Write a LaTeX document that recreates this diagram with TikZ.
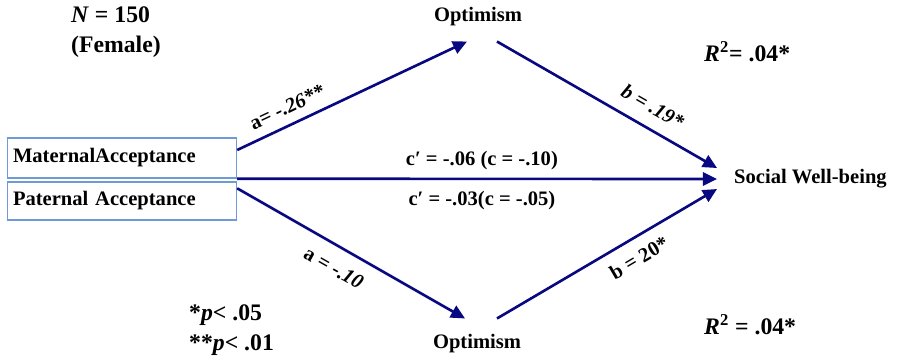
\documentclass[tikz,border=0pt]{standalone}
\usepackage{fontspec}
\setmainfont{Liberation Serif}
\usetikzlibrary{arrows.meta,positioning,calc}
\definecolor{navyline}{RGB}{8,8,128}
\definecolor{boxblue}{RGB}{110,155,215}

\begin{document}
\begin{tikzpicture}[x=0.02cm, y=-0.02cm, font=\bfseries\fontsize{11.7}{14}\selectfont,
    varbox/.style={draw=boxblue, line width=0.8pt, minimum height=0.8cm, text width=4.36cm, inner xsep=0.11cm, align=left},
    effect/.style={draw=navyline, line width=1.5pt, -{Triangle[length=8pt,width=7.5pt]}},
    note/.style={font=\bfseries\fontsize{13.5}{17}\selectfont, anchor=west, align=left}]
    \useasboundingbox (0,0) rectangle (898,363);

    % variables
    \node[varbox] (mat) at (122,158) {MaternalAcceptance};
    \node[varbox, minimum height=0.76cm] (pat) at (122,201) {Paternal Acceptance};
    \node (optA) at (478,17) {Optimism};
    \node (optB) at (477,344) {Optimism};
    \node[anchor=west] (swb) at (728,179) {Social Well-being};

    % paths
    \draw[effect] ($(mat.east)+(0,-8)$) -- ($(optA.south)+(-11,9)$)
        node[pos=0.25, sloped, above=2pt] {a= \textit{-.26**}};
    \draw[effect] ($(optA.south)+(19,9)$) -- ($(swb.west)+(-11,-11)$)
        node[pos=0.66, sloped, above=4pt] {\textit{b = .19*}};
    \draw[effect] (mat.south east) -- ($(swb.west)+(-11,0)$)
        node[pos=0.51, above=1pt] {c′ = -.06 (c = -.10)}
        node[pos=0.51, below=3pt] {c′ = -.03(c = -.05)};
    \draw[effect] ($(pat.north east)+(0,7)$) -- ($(optB.north)+(-12,-10)$)
        node[pos=0.47, sloped, below=4pt] {a = \textit{-.10}};
    \draw[effect] ($(optB.north)+(20,-10)$) -- ($(swb.west)+(-11,10)$)
        node[pos=0.6, sloped, below=3pt] {b = 20*};

    % notes
    \node[note] (sample) at (65,32) {\textit{N} = 150\\(Female)};
    \node[note] (rtop) at (698,52) {\textit{R}\textsuperscript{2}= .04*};
    \node[note] (rbot) at (698,325) {\textit{R}\textsuperscript{2} = .04*};
    \node[note] (sig) at (183,330) {*\textit{p}< .05\\**\textit{p}< .01};
\end{tikzpicture}
\end{document}
